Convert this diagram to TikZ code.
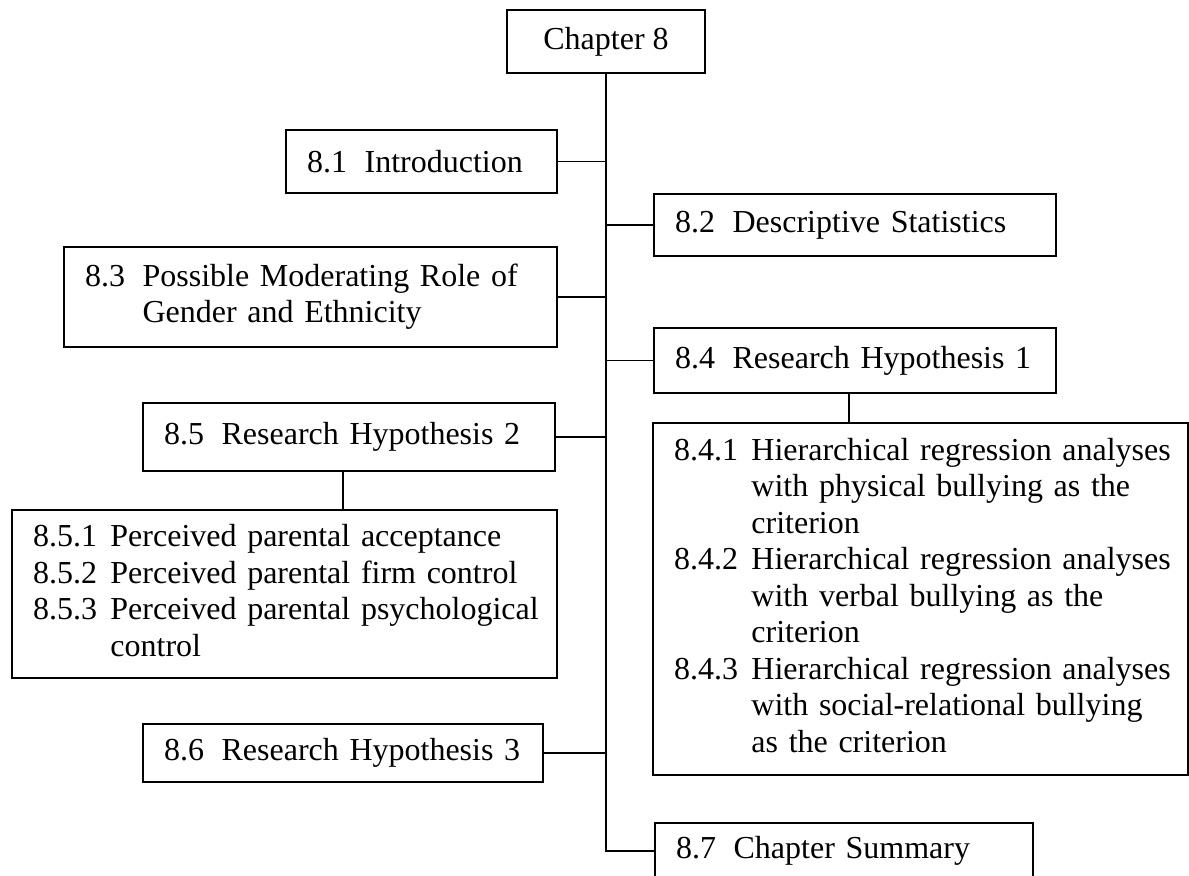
\documentclass[tikz,border=0pt]{standalone}
\usepackage{fontspec}
\setmainfont{Liberation Serif}
\newcommand{\boxfont}{\fontsize{12pt}{13.69pt}\selectfont}
\begin{document}
\begin{tikzpicture}[
  x=0.375pt, y=-0.375pt,
  box/.style={draw, line width=0.85pt, inner ysep=0pt, inner xsep=7.875pt,
              align=left, font=\boxfont},
  conn/.style={line width=0.65pt},
]
\useasboundingbox (0,0) rectangle (1189,875);

% chapter heading
\node[box, align=center, inner xsep=0pt, minimum width=74.25pt, minimum height=23.625pt]
  (ch8) at (606,41.5) {Chapter 8};

% sections on the left of the trunk
\node[box, text width=85.875pt, minimum height=23.625pt] (s81) at (421.5,161.5)
  {8.1\hspace{0.55em}Introduction};
\node[box, text width=169.125pt, minimum height=37.5pt] (s83) at (310.5,297)
  {\begin{tabular}{@{}l@{\hspace{0.55em}}l@{}}
   8.3 & Possible Moderating Role of\\
       & Gender and Ethnicity
   \end{tabular}};
\node[box, text width=138.75pt, minimum height=25.5pt] (s85) at (349,437)
  {8.5\hspace{0.55em}Research Hypothesis 2};
\node[box, text width=188.625pt, minimum height=63pt] (s85x) at (284.5,594)
  {\begin{tabular}{@{}l@{\hspace{0.42em}}l@{}}
   8.5.1 & Perceived parental acceptance\\
   8.5.2 & Perceived parental firm control\\
   8.5.3 & Perceived parental psychological\\
         & control
   \end{tabular}};
\node[box, text width=134.25pt, minimum height=21.75pt] (s86) at (343,753)
  {8.6\hspace{0.55em}Research Hypothesis 3};

% sections on the right of the trunk
\node[box, text width=135pt, minimum height=23.25pt] (s82) at (855,225)
  {8.2\hspace{0.55em}Descriptive Statistics};
\node[box, text width=135pt, minimum height=24.375pt] (s84) at (855,360.5)
  {8.4\hspace{0.55em}Research Hypothesis 1};
\node[box, text width=184.875pt, minimum height=132pt] (s84x) at (920.5,599)
  {\begin{tabular}{@{}l@{\hspace{0.42em}}l@{}}
   8.4.1 & Hierarchical regression analyses\\
         & with physical bullying as the\\
         & criterion\\
   8.4.2 & Hierarchical regression analyses\\
         & with verbal bullying as the\\
         & criterion\\
   8.4.3 & Hierarchical regression analyses\\
         & with social-relational bullying\\
         & as the criterion
   \end{tabular}};
\node[box, text width=126pt, minimum height=21pt] (s87) at (844,851)
  {8.7\hspace{0.55em}Chapter Summary};

% trunk and branches
\draw[conn] (ch8.south) -- (ch8.south |- s87.west) -- (s87.west);
\draw[conn] (s81.east) -- (s81.east -| ch8.south);
\draw[conn] (s82.west) -- (s82.west -| ch8.south);
\draw[conn] (s83.east) -- (s83.east -| ch8.south);
\draw[conn] (s84.west) -- (s84.west -| ch8.south);
\draw[conn] (s85.east) -- (s85.east -| ch8.south);
\draw[conn] (s86.east) -- (s86.east -| ch8.south);

% links to the subsection lists
\draw[conn] ([xshift=-2.25pt]s84.south) -- ([xshift=-2.25pt]s84.south |- s84x.north);
\draw[conn] ([xshift=-2.25pt]s85.south) -- ([xshift=-2.25pt]s85.south |- s85x.north);
\end{tikzpicture}
\end{document}
